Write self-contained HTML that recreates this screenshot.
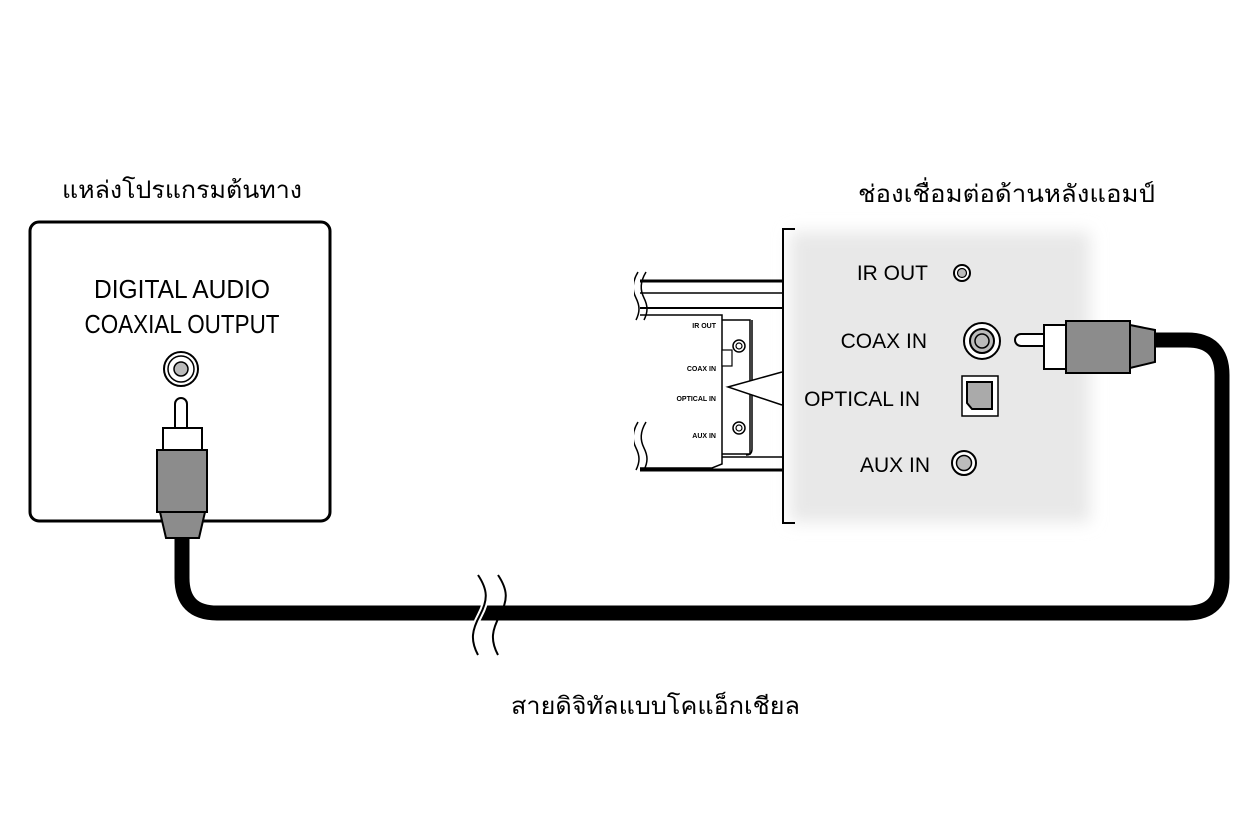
<!DOCTYPE html>
<html><head><meta charset="utf-8"><style>
html,body{margin:0;padding:0;background:#fff;width:1260px;height:840px;overflow:hidden}
svg{display:block}
text{font-family:"Liberation Sans","DejaVu Sans",sans-serif;fill:#000}
</style></head><body>
<svg width="1260" height="840" viewBox="0 0 1260 840" xmlns="http://www.w3.org/2000/svg">
<defs><filter id="bl" x="-10%" y="-10%" width="120%" height="120%"><feGaussianBlur stdDeviation="8"/></filter></defs>

<!-- titles -->
<text x="62" y="198" font-size="24" textLength="240" lengthAdjust="spacingAndGlyphs">แหล่งโปรแกรมต้นทาง</text>
<text x="858" y="202" font-size="24" textLength="297" lengthAdjust="spacingAndGlyphs">ช่องเชื่อมต่อด้านหลังแอมป์</text>
<text x="511" y="714" font-size="24" textLength="289" lengthAdjust="spacingAndGlyphs">สายดิจิทัลแบบโคแอ็กเชียล</text>

<!-- cable -->
<path d="M182,530 L182,578 Q182,613 217,613 L1187,613 Q1222,613 1222,578 L1222,375 Q1222,340 1187,340 L1150,340" fill="none" stroke="#000" stroke-width="15"/>
<path d="M478,575 C488,590 488,600 480,615 C472,630 470,640 478,655" fill="none" stroke="#fff" stroke-width="6"/>
<path d="M478,575 C488,590 488,600 480,615 C472,630 470,640 478,655" fill="none" stroke="#000" stroke-width="2"/>
<path d="M498,575 C508,590 508,600 500,615 C492,630 490,640 498,655" fill="none" stroke="#000" stroke-width="2"/>

<!-- left box -->
<rect x="30" y="222" width="300" height="299" rx="9" fill="#fff" stroke="#000" stroke-width="3"/>
<text x="182" y="298" font-size="26" text-anchor="middle" textLength="176" lengthAdjust="spacingAndGlyphs">DIGITAL AUDIO</text>
<text x="182" y="333" font-size="26" text-anchor="middle" textLength="195" lengthAdjust="spacingAndGlyphs">COAXIAL OUTPUT</text>
<circle cx="181" cy="369" r="17" fill="#fff" stroke="#000" stroke-width="2"/>
<circle cx="181" cy="369" r="13" fill="#fff" stroke="#000" stroke-width="1.5"/>
<circle cx="181" cy="369" r="7" fill="#bbb" stroke="#000" stroke-width="1.5"/>
<path d="M175,428 L175,404 A6,6 0 0 1 187,404 L187,428 Z" fill="#fff" stroke="#000" stroke-width="2"/>
<rect x="163" y="428" width="39" height="23" fill="#fff" stroke="#000" stroke-width="2"/>
<rect x="157" y="450" width="50" height="62" fill="#8c8c8c" stroke="#000" stroke-width="2"/>
<path d="M160,512 L205,512 L199,538 L166,538 Z" fill="#8c8c8c" stroke="#000" stroke-width="2"/>

<!-- right panel -->
<rect x="790" y="232" width="300" height="290" fill="#e8e8e8" filter="url(#bl)"/>
<path d="M795,229 L783,229 L783,523 L795,523" fill="none" stroke="#000" stroke-width="2"/>

<!-- amp fragment -->
<g stroke="#000" fill="none">
<line x1="640" y1="281" x2="783" y2="281" stroke-width="3"/>
<line x1="640" y1="293" x2="783" y2="293" stroke-width="1.5"/>
<line x1="640" y1="308" x2="783" y2="308" stroke-width="2"/>
<line x1="640" y1="457" x2="783" y2="457" stroke-width="1.5"/>
<line x1="640" y1="470" x2="783" y2="470" stroke-width="3"/>
<path d="M640,315 L722,315 L722,464 L712,468 L640,468" fill="#fff" stroke-width="1.5"/>
<path d="M722,320 L750,320 L750,454 L722,454" stroke-width="1.5"/>
<path d="M752,320 L752,449 Q752,455 746,455" stroke-width="1.5"/>
<path d="M782,372 L728,387 L782,405" fill="#fff" stroke-width="1.5"/>
<rect x="722" y="350" width="10" height="16" fill="#fff" stroke-width="1.2"/>
<circle cx="739" cy="346" r="6" stroke-width="1.5"/><circle cx="739" cy="346" r="3" stroke-width="1.2"/>
<circle cx="739" cy="428" r="6" stroke-width="1.5"/><circle cx="739" cy="428" r="3" stroke-width="1.2"/>
<path d="M638,272 C632,282 632,290 636,298 C640,306 640,312 636,320" stroke-width="1.5"/>
<path d="M646,272 C640,282 640,290 644,298 C648,306 648,312 644,320" stroke-width="1.5"/>
<path d="M638,422 C632,432 632,440 636,448 C640,456 640,462 636,470" stroke-width="1.5"/>
<path d="M646,422 C640,432 640,440 644,448 C648,456 648,462 644,470" stroke-width="1.5"/>
</g>
<rect x="626" y="270" width="8" height="205" fill="#fff"/>
<text x="716" y="328" font-size="7" font-weight="bold" text-anchor="end">IR OUT</text>
<text x="716" y="371" font-size="7" font-weight="bold" text-anchor="end">COAX IN</text>
<text x="716" y="401" font-size="7" font-weight="bold" text-anchor="end">OPTICAL IN</text>
<text x="716" y="438" font-size="7" font-weight="bold" text-anchor="end">AUX IN</text>

<!-- right labels -->
<text x="928" y="280" font-size="21" text-anchor="end">IR OUT</text>
<text x="927" y="348" font-size="21" text-anchor="end">COAX IN</text>
<text x="920" y="406" font-size="21" text-anchor="end">OPTICAL IN</text>
<text x="930" y="472" font-size="21" text-anchor="end">AUX IN</text>

<circle cx="962" cy="273" r="8" fill="#fff" stroke="#000" stroke-width="2"/>
<circle cx="962" cy="273" r="4.5" fill="#bbb" stroke="#000" stroke-width="1.2"/>
<circle cx="982" cy="341" r="18" fill="#fff" stroke="#000" stroke-width="2"/>
<circle cx="982" cy="341" r="12" fill="#bbb" stroke="#000" stroke-width="2"/>
<circle cx="982" cy="341" r="7" fill="#bbb" stroke="#000" stroke-width="1.5"/>
<rect x="962" y="376" width="36" height="40" fill="#fff" stroke="#000" stroke-width="1.5"/>
<path d="M967,382 L992,382 L992,409 L972,409 L967,403 Z" fill="#aaa" stroke="#000" stroke-width="2"/>
<circle cx="964" cy="463" r="12" fill="#fff" stroke="#000" stroke-width="2"/>
<circle cx="964" cy="463" r="7.5" fill="#bbb" stroke="#000" stroke-width="1.5"/>

<!-- right plug -->
<path d="M1045,334 L1021,334 A6,6 0 0 0 1021,346 L1045,346 Z" fill="#fff" stroke="#000" stroke-width="2"/>
<rect x="1044" y="325" width="23" height="44" fill="#fff" stroke="#000" stroke-width="2"/>
<rect x="1066" y="321" width="64" height="52" fill="#8c8c8c" stroke="#000" stroke-width="2"/>
<path d="M1130,325 L1155,330 L1155,362 L1130,368 Z" fill="#8c8c8c" stroke="#000" stroke-width="2"/>
</svg>
</body></html>
